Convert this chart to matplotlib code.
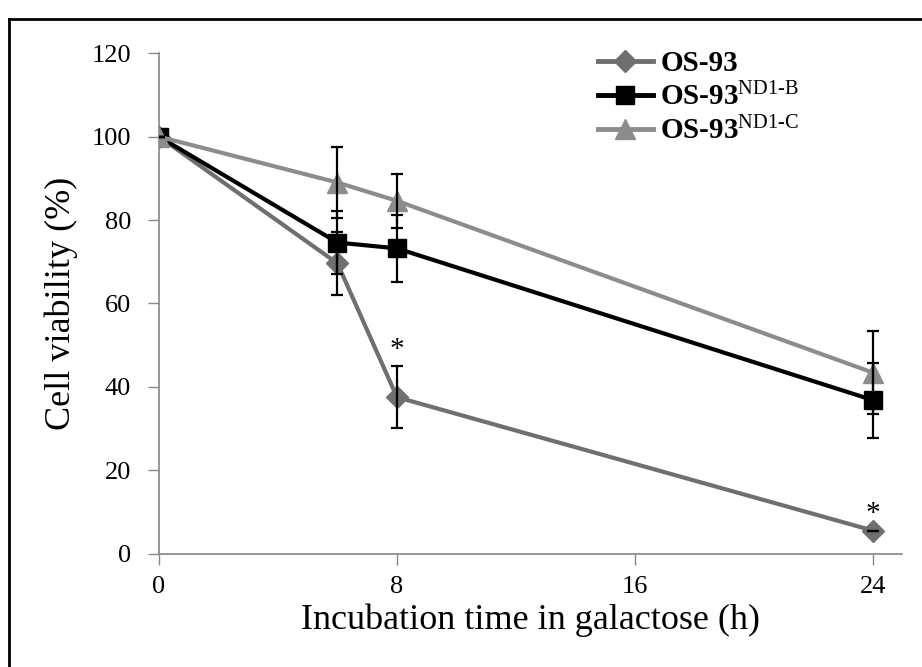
import matplotlib
matplotlib.use("Agg")
import matplotlib.pyplot as plt
from matplotlib.lines import Line2D

plt.rcParams['font.family'] = ['Liberation Serif', 'DejaVu Serif']
plt.rcParams['mathtext.fontset'] = 'custom'
plt.rcParams['mathtext.rm'] = 'Liberation Serif'
plt.rcParams['mathtext.it'] = 'Liberation Serif:italic'
plt.rcParams['mathtext.bf'] = 'Liberation Serif:bold'

times = [0, 6, 8, 24]
os93 = [100, 69.6, 37.5, 5.5]
os93_err = [0, 7.5, 7.5, 0]
nd1b = [100, 74.6, 73.2, 36.8]
nd1b_err = [0, 7.5, 8, 9]
nd1c = [100, 89, 84.6, 43.4]
nd1c_err = [0, 8.5, 6.5, 10]
labels = ["OS-93", r"OS-93$^{\mathrm{ND1\text{-}B}}$", r"OS-93$^{\mathrm{ND1\text{-}C}}$"]
star_points = [(8, 45), (24, 5.5)]
xticks = [0, 8, 16, 24]
yticks = [0, 20, 40, 60, 80, 100, 120]

W, H = 922, 667
fig = plt.figure(figsize=(W/100, H/100), dpi=100)
ax = fig.add_axes([159/W, 1-553.5/H, (901.7-159)/W, (553.5-53.3)/H])

c_os = '#6f6f6f'
c_b = '#000000'
c_c = '#8c8c8c'

series = [
    (os93, os93_err, c_os, 'D', 11, labels[0]),
    (nd1b, nd1b_err, c_b, 's', 13, labels[1]),
    (nd1c, nd1c_err, c_c, '^', 14, labels[2]),
]
handles = []
for vals, err, col, mk, ms, lab in series:
    ax.plot(times, vals, color=col, lw=3, marker=mk, ms=ms, mec=col, mfc=col, zorder=3)
    ax.errorbar(times, vals, yerr=err, fmt='none', ecolor='black', elinewidth=1.6,
                capsize=4.5, capthick=1.6, zorder=4)
    handles.append(Line2D([], [], color=col, lw=3.5, marker=mk, ms=ms, mec=col, mfc=col))

for x, y in star_points:
    ax.text(x, y + 0.8, '*', ha='center', va='bottom', fontsize=21, color='black')

ax.set_xlim(0, 24.97)
ax.set_ylim(0, 120)
ax.set_xticks(xticks)
ax.set_yticks(yticks)
ax.tick_params(axis='both', direction='out', length=8, width=1, color='#888888',
               labelsize=19, pad=8)
ax.tick_params(axis='y', pad=12)
for s in ['top', 'right']:
    ax.spines[s].set_visible(False)
for s in ['left', 'bottom']:
    ax.spines[s].set_color('#888888')
    ax.spines[s].set_linewidth(1.2)

ax.set_xlabel('Incubation time in galactose (h)', fontsize=26, labelpad=4)
ax.set_ylabel('Cell viability (%)', fontsize=26, labelpad=10)

leg = ax.legend(handles, labels, loc='upper left', bbox_to_anchor=(0.575, 1.03),
                frameon=False, prop={'weight': 'bold', 'size': 21},
                handlelength=1.9, handletextpad=0.25, labelspacing=0.2, borderaxespad=0)

# figure border
fig.add_artist(Line2D([9/W, 9/W], [0, 1-19/H], transform=fig.transFigure, color='black', lw=2))
fig.add_artist(Line2D([9/W, 1], [1-19/H, 1-19/H], transform=fig.transFigure, color='black', lw=2))

fig.savefig('out.png', dpi=100)
